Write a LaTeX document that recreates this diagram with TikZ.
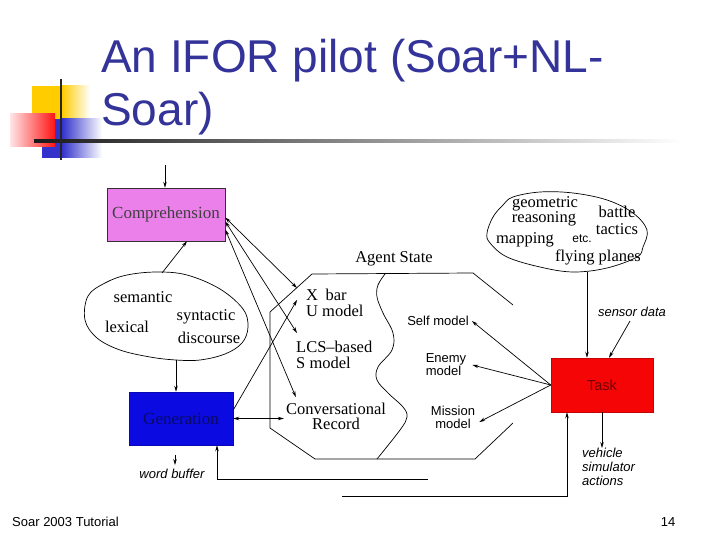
\documentclass[tikz,border=0pt]{standalone}
\usepackage{fontspec}
\setmainfont{Liberation Serif}
\setsansfont{Liberation Sans}
\newfontfamily\titlefont{Liberation Sans}
\usetikzlibrary{arrows.meta}
\definecolor{titleblue}{RGB}{51,51,153}
\definecolor{decoyellow}{RGB}{255,204,0}
\definecolor{decoblue}{RGB}{51,51,204}
\definecolor{decored}{RGB}{255,20,20}
\definecolor{compfill}{RGB}{235,128,235}
\definecolor{genfill}{RGB}{10,10,225}
\definecolor{gentext}{RGB}{10,10,100}
\definecolor{taskfill}{RGB}{245,5,5}
\definecolor{tasktext}{RGB}{110,0,0}
\tikzset{
  tip/.tip={Stealth[length=6pt,width=3.5pt]},
  arr/.style={draw, line width=0.7pt, -tip},
  darr/.style={draw, line width=0.7pt, tip-tip},
  outline/.style={draw, line width=0.7pt},
  serlbl/.style={font=\fontsize{16.5}{16}\selectfont, inner sep=0pt},
  sanslbl/.style={font=\sffamily\fontsize{13}{13}\selectfont, inner sep=0pt},
  itlbl/.style={font=\sffamily\itshape\fontsize{13}{14}\selectfont, inner sep=0pt},
  boxnode/.style={inner sep=0pt, line width=0.5pt},
  titletext/.style={font=\titlefont\fontsize{46}{53}\selectfont, text=titleblue, inner sep=0pt, anchor=base west}
}
\begin{document}
\begin{tikzpicture}[x=1pt,y=-1pt]
\useasboundingbox (0,0) rectangle (720,540);
\fill[white] (0,0) rectangle (720,540);

% decoration
\fill[decoyellow] (32,86) rectangle (62,121);
\shade[left color=decoyellow, right color=white] (62,86) rectangle (90,121);
\fill[decoblue] (42,119) rectangle (62,158);
\shade[left color=decoblue, right color=white] (62,119) rectangle (102,158);
\shade[left color=red!10, right color=decored] (10,114) rectangle (55,147);
\shade[left color=black!90, right color=white] (34,139.5) rectangle (682,142.5);
\fill[black!85] (59.8,79) rectangle (62.2,160);

% title
\node[titletext] (t1) at (101,73) {An IFOR pilot (Soar+NL-};
\node[titletext] (t2) at (101,126) {Soar)};

% boxes
\node[boxnode, draw=black!80, fill=compfill, minimum width=118pt, minimum height=53pt,
      font=\fontsize{17}{17}\selectfont, text=black!75] (comp) at (166,214.5) {Comprehension};
\node[boxnode, draw=genfill!80!black, fill=genfill, minimum width=104pt, minimum height=53pt,
      font=\fontsize{17}{17}\selectfont, text=gentext] (gen) at (181,418.5) {Generation};
\node[boxnode, draw=taskfill!80!black, fill=taskfill, minimum width=102pt, minimum height=54pt,
      font=\sffamily\fontsize{14.5}{14}\selectfont, text=tasktext] (task) at (602,385) {Task};

% left blob
\draw[outline] plot[smooth cycle, tension=0.6] coordinates {(88,296) (105,283) (127,275) (157,272) (187,275) (220,289) (243,309) (248,327) (242,343) (225,354) (200,360) (176,360) (150,357) (120,350) (97,338) (85,320)};
\coordinate (blobtop) at (162,273);
\coordinate (blobbot) at (176,360);
\node[serlbl] (semantic) at (143,297) {semantic};
\node[serlbl] (syntactic) at (206,317) {syntactic};
\node[serlbl] (lexical) at (127,327) {lexical};
\node[serlbl] (discourse) at (209,338) {discourse};

% cloud
\draw[outline] plot[smooth cycle, tension=0.6] coordinates {(513,197) (540,192) (573,193) (607,200) (633,213) (647,230) (643,247) (637,257) (607,268) (573,272) (540,267) (507,257) (490,243) (487,233) (493,217) (503,205)};
\coordinate (cloudbot) at (587,272);
\node[serlbl] (geometric) at (545,204) {geometric};
\node[serlbl] (reasoning) at (544,219) {reasoning};
\node[serlbl] (battle) at (617,212) {battle};
\node[serlbl] (tactics) at (617,229) {tactics};
\node[serlbl] (mapping) at (525,240) {mapping};
\node[sanslbl, font=\sffamily\fontsize{12}{12}\selectfont] (etc) at (582,239) {etc.};
\node[serlbl] (flying) at (598,257) {flying planes};

% agent state
\node[serlbl] (agent) at (394,259) {Agent State};
\draw[outline] (513,305) -- (473,273) -- (312,274) -- (270,312) -- (270,428) -- (315,459) -- (475,459) -- (513,423);
\draw[outline] plot[smooth, tension=0.6] coordinates {(385,274) (378,285) (377,297) (383,313) (393,333) (392,350) (378,367) (377,380) (388,393) (403,407) (407,417) (400,430) (377,459)};

\node[serlbl, align=left, anchor=west] (xbarU) at (306,303) {X\hspace{0.45em}bar\\U model};
\node[serlbl, align=left, anchor=west] (lcs) at (296,355) {LCS–based\\S model};
\node[serlbl, align=center, font=\fontsize{16.5}{15}\selectfont] (conv) at (336,416) {Conversational\\Record};
\node[sanslbl] (self) at (438,321) {Self model};
\node[sanslbl, align=left, font=\sffamily\fontsize{13}{13}\selectfont] (enemy) at (446,365) {Enemy\\model};
\node[sanslbl, align=center, font=\sffamily\fontsize{13}{13}\selectfont] (mission) at (453,417) {Mission\\model};

% italic labels
\node[itlbl] (sensor) at (632,312) {sensor data};
\node[itlbl, align=left, anchor=west] (veh) at (582,467) {vehicle\\simulator\\actions};
\node[itlbl] (wb) at (172,474) {word buffer};
\coordinate (compin) at (165,165);
\coordinate (fbA) at (428,479);
\coordinate (fbB) at (342,496);

% connectors
\draw[arr] (compin) -- (compin |- comp.north);
\draw[arr] (blobtop) -- ([xshift=21pt]comp.south);
\draw[arr] (blobbot) -- (blobbot |- gen.north);
\draw[darr] ([yshift=-3pt]comp.east) -- ([xshift=-9pt,yshift=15pt]xbarU.west);
\draw[darr] ([yshift=-7pt]comp.east) -- ([xshift=1pt,yshift=22pt]lcs.west);
\draw[darr] ([yshift=-15pt]comp.east) -- ([xshift=10pt,yshift=19pt]conv.west);
\draw[arr] ([yshift=8.5pt]gen.east) -- ([xshift=-9pt,yshift=3pt]xbarU.west);
\draw[darr] (gen.east) -- ([xshift=-2pt]gen.east -| conv.west);
\draw[arr] (task.west) -- ([xshift=3pt]self.east);
\draw[arr] (task.west) -- ([xshift=6pt]enemy.east);
\draw[arr] (task.west) -- ([xshift=4pt,yshift=-5pt]mission.east);
\draw[arr] (cloudbot) -- (cloudbot |- task.north);
\draw[arr] ([xshift=-2pt,yshift=-4pt]sensor.south) -- ([xshift=7pt]task.north);
\draw[arr] (task.south) -- (task.south |- veh.north);
\draw[arr] (fbA) -| ([xshift=36pt]gen.south);
\draw[arr] (fbB) -| ([xshift=-35pt]task.south);
\draw[arr] ([xshift=3pt,yshift=14pt]wb.north) -- ([xshift=3pt,yshift=4pt]wb.north);

% footer
\node[font=\sffamily\fontsize{13}{13}\selectfont, anchor=west, inner sep=0pt] (footer) at (12,522) {Soar 2003 Tutorial};
\node[font=\sffamily\fontsize{13}{13}\selectfont, inner sep=0pt] (pagenum) at (668,522) {14};
\end{tikzpicture}
\end{document}
